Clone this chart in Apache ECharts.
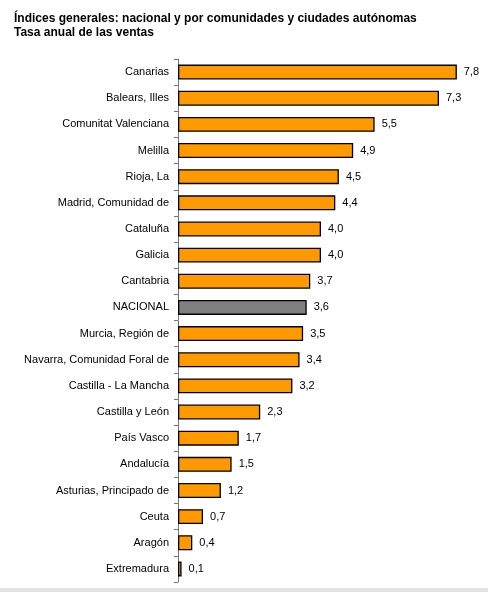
<!DOCTYPE html>
<html>
<head>
<meta charset="utf-8">
<script src="https://cdn.jsdelivr.net/npm/echarts@6/dist/echarts.min.js"></script>
<style>
html, body { margin: 0; padding: 0; background: #fff; }
#chart { width: 488px; height: 592px; }
</style>
</head>
<body>
<div id="chart"></div>
<script>
var categories = [
    "Canarias", "Balears, Illes", "Comunitat Valenciana", "Melilla", "Rioja, La",
    "Madrid, Comunidad de", "Cataluña", "Galicia", "Cantabria", "NACIONAL",
    "Murcia, Región de", "Navarra, Comunidad Foral de", "Castilla - La Mancha",
    "Castilla y León", "País Vasco", "Andalucía", "Asturias, Principado de",
    "Ceuta", "Aragón", "Extremadura"
];
var values = [7.8, 7.3, 5.5, 4.9, 4.5, 4.4, 4.0, 4.0, 3.7, 3.6, 3.5, 3.4, 3.2, 2.3, 1.7, 1.5, 1.2, 0.7, 0.4, 0.1];
var highlight = "NACIONAL";

var myChart = echarts.init(document.getElementById("chart"));
var option = {
    backgroundColor: "#FFFFFF",
    animation: false,
    title: {
        text: "Índices generales: nacional y por comunidades y ciudades autónomas\nTasa anual de las ventas",
        left: 14,
        top: 12,
        padding: 0,
        textStyle: {
            fontFamily: "Liberation Sans",
            fontSize: 12,
            fontWeight: "bold",
            color: "#000",
            lineHeight: 14
        }
    },
    graphic: [
        {
            type: "rect",
            shape: { x: 0, y: 588, width: 488, height: 4 },
            style: { fill: "#E3E3E3" }
        }
    ],
    grid: {
        left: 178,
        right: 24,
        top: 59,
        bottom: 10
    },
    xAxis: {
        type: "value",
        min: 0,
        max: 8,
        show: false
    },
    yAxis: {
        type: "category",
        inverse: true,
        data: categories,
        axisLine: { lineStyle: { color: "#777", width: 1 } },
        axisTick: { show: true, length: 4, lineStyle: { color: "#777" } },
        axisLabel: {
            margin: 9,
            fontFamily: "Liberation Sans",
            fontSize: 11,
            color: "#000"
        }
    },
    series: [
        {
            type: "bar",
            barWidth: "57%",
            data: values.map(function(v, i) {
                return {
                    value: v,
                    itemStyle: { color: categories[i] === highlight ? "#808080" : "#FF9900" }
                };
            }),
            itemStyle: { borderColor: "#000", borderWidth: 1.3 },
            label: {
                show: true,
                position: "right",
                distance: 7,
                fontFamily: "Liberation Sans",
                fontSize: 11,
                color: "#000",
                formatter: function(p) {
                    return p.value.toFixed(1).replace(".", ",");
                }
            }
        }
    ]
};
myChart.setOption(option);
</script>
</body>
</html>
